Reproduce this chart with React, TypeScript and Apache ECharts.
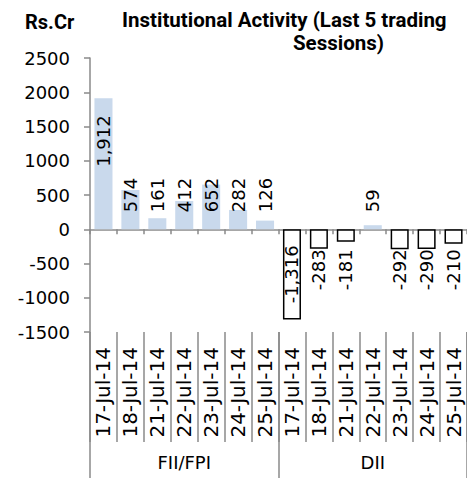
import React, { useEffect, useRef } from "react";
import * as echarts from "echarts";

const dates = [
  "17-Jul-14", "18-Jul-14", "21-Jul-14", "22-Jul-14", "23-Jul-14", "24-Jul-14", "25-Jul-14",
  "17-Jul-14", "18-Jul-14", "21-Jul-14", "22-Jul-14", "23-Jul-14", "24-Jul-14", "25-Jul-14",
];
const groups = ["FII/FPI", "DII"];
const fiiValues = [1912, 574, 161, 412, 652, 282, 126];
const diiValues = [-1316, -283, -181, 59, -292, -290, -210];
const yTicks = { min: -1500, max: 2500, interval: 500 };
const titleLines = ["Institutional Activity (Last 5 trading", "Sessions)"];
const unitLabel = "Rs.Cr";

const AXIS_GRAY = "#8a8a8a";
const POS_FILL = "#c9d9ec";
const LABEL_FONT = "DejaVu Sans";

function labelFor(v: number) {
  if (v >= 1000) return { position: "insideTop", distance: 17, align: "right" };
  if (v > 0) return { position: "insideBottom", distance: 17, align: "left" };
  if (v <= -1000) return { position: "inside", align: "center" };
  return { position: "insideTop", distance: 61, align: "left" };
}

export default function App() {
  const ref = useRef<HTMLDivElement>(null);
  useEffect(() => {
    if (!ref.current) return;
    const chart = echarts.init(ref.current, null, { renderer: "svg" });
    const values = [...fiiValues, ...diiValues];
    const data = values.map((v) => ({
      value: v,
      itemStyle:
        v >= 0
          ? { color: POS_FILL, borderWidth: 0 }
          : { color: "#ffffff", borderColor: "#000000", borderWidth: 1.5 },
      label: {
        show: true,
        rotate: 90,
        verticalAlign: "middle",
        fontFamily: LABEL_FONT,
        fontSize: 18,
        color: "#000",
        formatter: () => v.toLocaleString("en-US"),
        ...labelFor(v),
      },
    }));
    chart.setOption({
      animation: false,
      backgroundColor: "#ffffff",
      grid: { left: 90, top: 58, right: -2, bottom: 146, containLabel: false },
      graphic: [
        {
          type: "text",
          left: 25,
          top: 12,
          style: { text: unitLabel, font: "bold 20px Roboto", fill: "#000" },
        },
        {
          type: "text",
          left: 122,
          top: 9,
          style: { text: titleLines[0], font: "bold 20.5px Roboto", fill: "#000" },
        },
        {
          type: "text",
          left: 293,
          top: 32,
          style: { text: titleLines[1], font: "bold 20.5px Roboto", fill: "#000" },
        },
      ],
      xAxis: [
        {
          type: "category",
          data: dates,
          position: "bottom",
          axisLine: { show: true, onZero: true, lineStyle: { color: AXIS_GRAY, width: 1.5 } },
          axisTick: { show: true, length: 5, interval: 0, lineStyle: { color: AXIS_GRAY, width: 1.5 } },
          axisLabel: { show: false },
          splitLine: { show: false },
        },
        {
          type: "category",
          data: dates,
          position: "bottom",
          axisLine: { show: false, onZero: false },
          axisTick: { show: true, length: 110, interval: 0, lineStyle: { color: AXIS_GRAY, width: 1.5 } },
          axisLabel: {
            show: true,
            rotate: 90,
            interval: 0,
            margin: 15,
            fontFamily: LABEL_FONT,
            fontSize: 20,
            color: "#000",
          },
          splitLine: { show: false },
        },
        {
          type: "category",
          data: groups,
          position: "bottom",
          axisLine: { show: false, onZero: false },
          axisTick: { show: true, length: 146, interval: 0, lineStyle: { color: AXIS_GRAY, width: 1.5 } },
          axisLabel: {
            show: true,
            interval: 0,
            margin: 121,
            fontFamily: LABEL_FONT,
            fontSize: 18,
            color: "#000",
          },
          splitLine: { show: false },
        },
      ],
      yAxis: {
        type: "value",
        min: yTicks.min,
        max: yTicks.max,
        interval: yTicks.interval,
        axisLine: { show: true, lineStyle: { color: AXIS_GRAY, width: 1.5 } },
        axisTick: { show: true, length: 6, lineStyle: { color: AXIS_GRAY, width: 1.5 } },
        axisLabel: {
          margin: 20,
          fontFamily: LABEL_FONT,
          fontSize: 18,
          color: "#000",
          formatter: (v: number) => String(v),
        },
        splitLine: { show: false },
      },
      series: [
        {
          type: "bar",
          xAxisIndex: 0,
          data,
          barCategoryGap: "33%",
        },
      ],
    });
    return () => chart.dispose();
  }, []);
  return (
    <div
      ref={ref}
      style={{ position: "fixed", left: 0, top: 0, width: 467, height: 478 }}
    />
  );
}
